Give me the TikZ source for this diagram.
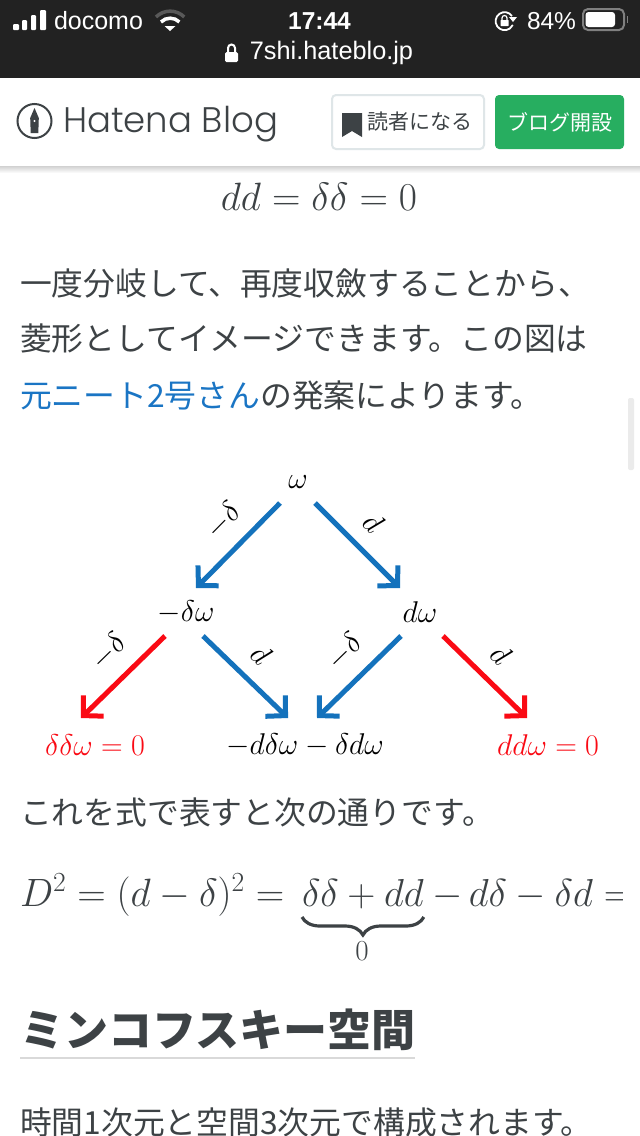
\RequirePackage{fix-cm}
\documentclass[tikz,border=0pt]{standalone}
\usepackage{amsmath}
\usepackage{fontspec}
\setmainfont{Liberation Sans}
\newfontfamily\jpfont{Noto Sans CJK JP}
\newfontfamily\logofont{Poppins Light}
\usetikzlibrary{arrows.meta,decorations.pathreplacing}
\definecolor{barcol}{HTML}{222222}
\definecolor{inkcol}{HTML}{3D4245}
\definecolor{linkcol}{HTML}{1A75C4}
\definecolor{bluecol}{HTML}{1472BC}
\definecolor{redcol}{HTML}{FA0A14}
\definecolor{greencol}{HTML}{27AE60}
\definecolor{edgecol}{HTML}{DFE6E8}
\tikzset{
every node/.style={inner sep=0pt,outer sep=0pt}
, statustext/.style={color=white,font=\fontsize{24.5}{28}\selectfont}
, bodytext/.style={color=inkcol,anchor=west,font=\jpfont\fontsize{31.8}{36}\selectfont}
, mathtext/.style={color=inkcol,font=\fontsize{39.5}{46}\selectfont}
, termnode/.style={color=black,font=\fontsize{30}{34}\selectfont}
, redterm/.style={color=redcol,font=\fontsize{30}{34}\selectfont}
, bluearrow/.style={color=bluecol,line width=5pt,-{Straight Barb[length=14pt,width=29pt,line width=5pt]}}
, redarrow/.style={color=redcol,line width=5pt,-{Straight Barb[length=14pt,width=29pt,line width=5pt]}}
, oplabel/.style={color=black,sloped,above=#1,font=\fontsize{30}{34}\selectfont}
, headbutton/.style={rounded corners=4pt,minimum height=54pt,font=\jpfont\fontsize{21}{24}\selectfont}
, bracepath/.style={color=inkcol,line width=3.2pt,decorate,decoration={brace,mirror,amplitude=18pt}}}
\begin{document}
\begin{tikzpicture}[x=1pt,y=-1pt]
\useasboundingbox (0,0) rectangle (640,1136);
\fill[white] (0,0) rectangle (640,1136);
% status bar
\fill[barcol] (0,0) rectangle (640,78);
\fill[white,rounded corners=1pt] (13,24) rectangle (19,30);
\fill[white,rounded corners=1pt] (22,20) rectangle (27,30);
\fill[white,rounded corners=1pt] (31,15) rectangle (36,30);
\fill[white,rounded corners=1pt] (40,10) rectangle (46,30);
\node[statustext,anchor=west,font=\fontsize{25}{28}\selectfont] (carrier) at (54,21) {docomo};
\draw[gray!70!black,line width=3.5pt] (156,17) arc[start angle=135,end angle=45,radius=20pt];
\draw[white,line width=3.5pt] (161,22) arc[start angle=135,end angle=45,radius=13pt];
\fill[white] (170,31) -- (164.5,26) -- (175.5,26) -- cycle;
\node[statustext,font=\bfseries\fontsize{24.5}{28}\selectfont] (clock) at (319.5,21) {17:44};
\draw[white,line width=1.8pt] (512,16) arc[start angle=35,end angle=335,radius=9pt];
\fill[white] (509,17) -- (517,17) -- (513,22) -- cycle;
\fill[white,rounded corners=0.5pt] (500.5,20) rectangle (508.5,26);
\draw[white,line width=1.2pt] (502,20) -- (502,18) arc[start angle=180,end angle=0,radius=2.5pt] -- (507,20);
\node[statustext,anchor=west] (level) at (527,21) {84\%};
\draw[gray,line width=2pt,rounded corners=5pt] (583,9) rectangle (624,30);
\fill[white,rounded corners=3pt] (585.5,12) rectangle (615,27);
\fill[gray] (626.5,16) rectangle (628,23);
\fill[white,rounded corners=1.5pt] (225,52) rectangle (238,62);
\draw[white,line width=2pt] (228,52) -- (228,48) arc[start angle=180,end angle=0,radius=3.5pt] -- (235,52);
\node[statustext,font=\fontsize{25.3}{28}\selectfont] (site) at (331.5,53) {7shi.hateblo.jp};
% page head
\shade[top color=black!18,bottom color=white] (0,166) rectangle (640,173);
\draw[inkcol,line width=2pt] (34.5,121) circle[radius=17pt];
\fill[inkcol] (34.5,108) -- (38.8,118) -- (38.3,133) -- (30.7,133) -- (30.2,118) -- cycle;
\fill[white] (34.5,121) circle[radius=1.2pt];
\node[anchor=west,color=inkcol,font=\logofont\fontsize{35.5}{40}\selectfont] (logo) at (63,124) {Hatena Blog};
\node[headbutton,draw=edgecol,line width=2pt,fill=white,minimum width=152pt] (subscribe) at (408,122) {};
\fill[inkcol] (342,113) -- (362,113) -- (362,137) -- (352,131) -- (342,137) -- cycle;
\node[color=inkcol,font=\jpfont\fontsize{21}{24}\selectfont] (subtext) at (419.5,122) {読者になる};
\node[headbutton,text=white,fill=greencol,minimum width=129pt] (open) at (559.5,122) {ブログ開設};
% page text
\node[mathtext] (eqone) at (319,197) {$dd=\delta\delta=0$};
\node[bodytext] (lineone) at (20,283) {一度分岐して、再度収斂することから、};
\node[bodytext] (linetwo) at (20,339) {菱形としてイメージできます。この図は};
\node[bodytext] (linethree) at (20,395) {\textcolor{linkcol}{元ニート2号さん}の発案によります。};
\fill[black!8,rounded corners=2pt] (628,398) rectangle (634,470);
% diagram
\node[termnode] (w) at (298,482) {$\omega$};
\node[termnode] (mdw) at (186,612) {$-\delta\omega$};
\node[termnode] (dw) at (420,612) {$d\omega$};
\node[redterm] (zerol) at (95,745) {$\delta\delta\omega=0$};
\node[termnode] (mid) at (305,745) {$-d\delta\omega-\delta d\omega$};
\node[redterm] (zeror) at (548,745) {$dd\omega=0$};
\draw[bluearrow] ([shift={(-18,21)}]w.center) -- node[pos=0.44,oplabel=17pt] (lbla) {$-\delta$} ([shift={(10,-24)}]mdw.center);
\draw[bluearrow] ([shift={(17,21)}]w.center) -- node[pos=0.46,oplabel=17pt] (lblb) {$d$} ([shift={(-20,-24)}]dw.center);
\draw[redarrow] ([shift={(-21,24)}]mdw.center) -- node[pos=0.44,oplabel=17pt] (lblc) {$-\delta$} ([shift={(-14,-27)}]zerol.center);
\draw[bluearrow] ([shift={(17,24)}]mdw.center) -- node[pos=0.46,oplabel=17pt] (lbld) {$d$} ([shift={(-17,-27)}]mid.center);
\draw[bluearrow] ([shift={(-19,24)}]dw.center) -- node[pos=0.44,oplabel=17pt] (lble) {$-\delta$} ([shift={(12,-27)}]mid.center);
\draw[redarrow] ([shift={(23,24)}]dw.center) -- node[pos=0.46,oplabel=17pt] (lblf) {$d$} ([shift={(-21,-27)}]zeror.center);
% lower text
\node[bodytext] (linefour) at (20,812) {これを式で表すと次の通りです。};
\node[mathtext,anchor=base west] (eqleft) at (20,906) {$D^2=(d-\delta)^2=$};
\node[mathtext,anchor=base west,font=\fontsize{39}{46}\selectfont] (eqsum) at (302,906) {$\delta\delta+dd$};
\begin{scope}
\clip (0,860) rectangle (622,970);
\node[mathtext,anchor=base west,font=\fontsize{39}{46}\selectfont] (eqright) at (432,906) {$-\,d\delta-\delta d=$};
\end{scope}
\draw[bracepath] ([yshift=-11pt]eqsum.base west) -- ([yshift=-11pt]eqsum.base east);
\node[mathtext,font=\fontsize{29}{34}\selectfont] (eqzero) at (362,951) {$0$};
\node[color=inkcol,anchor=west,font=\jpfont\bfseries\fontsize{44}{50}\selectfont] (heading) at (20,1030) {ミンコフスキー空間};
\draw[black!15,line width=2pt] (heading.west |- 0,1058) -- (415,1058);
\node[bodytext] (linefive) at (20,1122) {時間1次元と空間3次元で構成されます。};
\end{tikzpicture}
\end{document}
